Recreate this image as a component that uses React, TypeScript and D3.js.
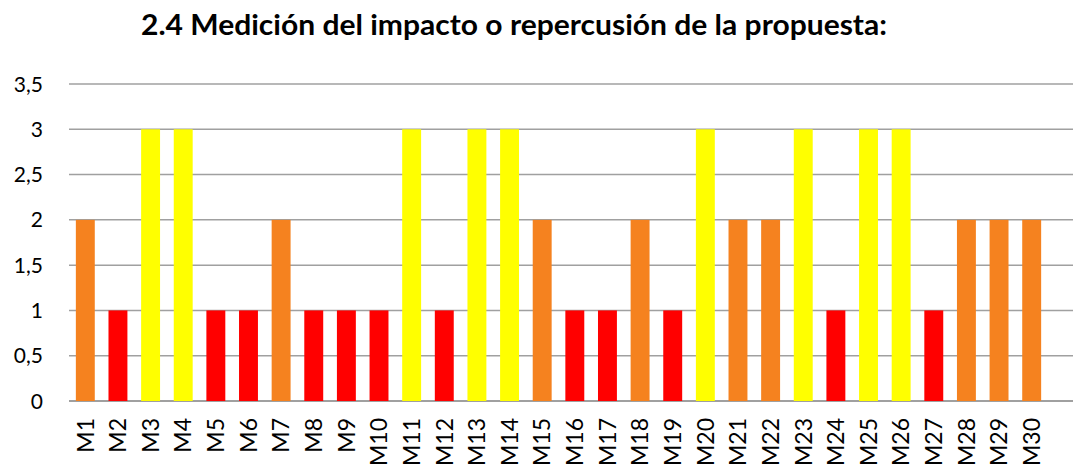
import * as d3 from "d3";

const categories = [
  "M1", "M2", "M3", "M4", "M5", "M6", "M7", "M8", "M9", "M10",
  "M11", "M12", "M13", "M14", "M15", "M16", "M17", "M18", "M19", "M20",
  "M21", "M22", "M23", "M24", "M25", "M26", "M27", "M28", "M29", "M30",
];
const values = [
  2, 1, 3, 3, 1, 1, 2, 1, 1, 1,
  3, 1, 3, 3, 2, 1, 1, 2, 1, 3,
  2, 2, 3, 1, 3, 3, 1, 2, 2, 2,
];
const yTicks = [0, 0.5, 1, 1.5, 2, 2.5, 3, 3.5];
const title = "2.4 Medición del impacto o repercusión de la propuesta:";

// colour by score level
const levelColor: Record<number, string> = { 1: "#FF0000", 2: "#F5821F", 3: "#FFFF00" };

const W = 1073;
const H = 470;
const FONT = "Lato, 'Open Sans', sans-serif";

export default function App() {
  const plotLeft = 69;
  const plotRight = 1048;
  const gridRight = 1073;
  const y0 = 401;
  const yTop = 84;

  const x = d3.scaleBand<string>()
    .domain(categories)
    .range([plotLeft, plotRight])
    .paddingInner(0.42)
    .paddingOuter(0.21);

  const y = d3.scaleLinear().domain([0, 3.5]).range([y0, yTop]);

  return (
    <div style={{ position: "fixed", left: 0, top: 0 }}>
      <svg width={W} height={H} style={{ display: "block", background: "#fff" }}>
        <text
          x={514}
          y={35}
          textAnchor="middle"
          fontFamily={FONT}
          fontWeight="bold"
          fontSize={28}
          textLength={746}
          lengthAdjust="spacingAndGlyphs"
          fill="#000"
        >
          {title}
        </text>

        {/* gridlines */}
        {yTicks.map((t) => (
          <line
            key={"g" + t}
            x1={plotLeft}
            x2={gridRight}
            y1={y(t)}
            y2={y(t)}
            stroke="#A0A0A0"
            strokeWidth={t === 0 ? 2 : 1.5}
          />
        ))}

        {/* y tick labels */}
        {yTicks.map((t) => (
          <text
            key={"t" + t}
            x={43}
            y={y(t)}
            dy="0.36em"
            textAnchor="end"
            fontFamily={FONT}
            fontSize={21}
            fill="#000"
          >
            {String(t).replace(".", ",")}
          </text>
        ))}

        {/* bars */}
        {categories.map((c, i) => (
          <rect
            key={c}
            x={x(c)}
            y={y(values[i])}
            width={x.bandwidth()}
            height={y0 - y(values[i])}
            fill={levelColor[values[i]]}
          />
        ))}

        {/* x labels */}
        {categories.map((c) => {
          const cx = (x(c) ?? 0) + x.bandwidth() / 2;
          return (
            <text
              key={"l" + c}
              transform={`translate(${cx},418) rotate(-90)`}
              textAnchor="end"
              dy="0.36em"
              fontFamily={FONT}
              fontSize={23}
              fill="#000"
            >
              {c}
            </text>
          );
        })}
      </svg>
    </div>
  );
}
